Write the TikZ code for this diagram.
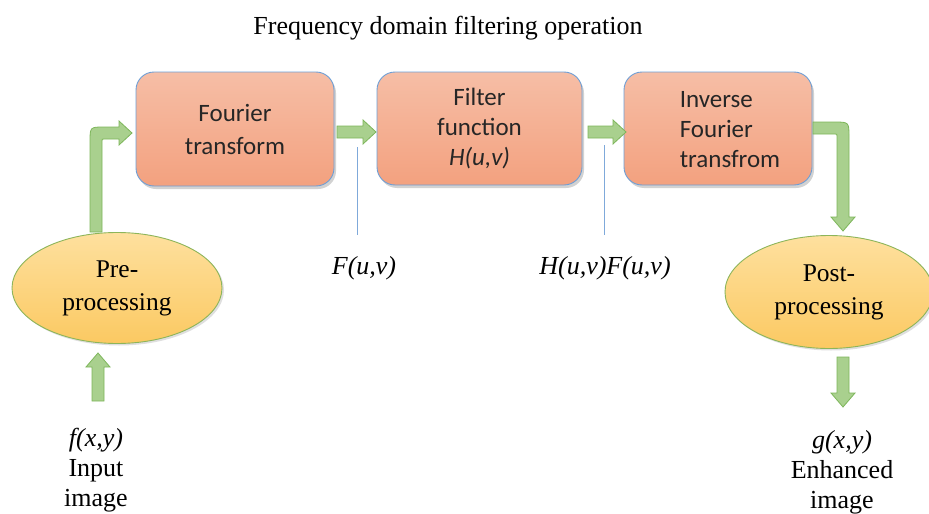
\documentclass[tikz,border=0pt]{standalone}
\usepackage{fontspec}
\setmainfont{Liberation Serif}
\newfontfamily\timesfont{Liberation Serif}
\newfontfamily\carlfont{Carlito}
\usetikzlibrary{shadows,shapes.geometric,calc}
\definecolor{boxtop}{HTML}{F6BEA6}
\definecolor{boxbot}{HTML}{F3A17F}
\definecolor{boxline}{HTML}{6E9FD6}
\definecolor{elltop}{HTML}{FEE09E}
\definecolor{ellbot}{HTML}{FBC962}
\definecolor{ellline}{HTML}{8DB55A}
\definecolor{arrfill}{HTML}{A9D08E}
\definecolor{arrline}{HTML}{7DB65A}
\definecolor{tline}{HTML}{7FA9DA}
\definecolor{txt}{HTML}{262626}
\newcommand\harrow[3]{%
  \path[blockarr] ({#1},{#3-6}) -- ({#2-13},{#3-6}) -- ({#2-13},{#3-12}) -- ({#2},{#3}) -- ({#2-13},{#3+12}) -- ({#2-13},{#3+6}) -- ({#1},{#3+6}) -- cycle;}
\newcommand\varrow[3]{% x center, y start, y tip
  \path[blockarr] ({#1-6},{#2}) -- ({#1-6},{#3-(#3-#2)/abs(#3-#2)*14}) -- ({#1-12},{#3-(#3-#2)/abs(#3-#2)*14}) -- ({#1},{#3}) -- ({#1+12},{#3-(#3-#2)/abs(#3-#2)*14}) -- ({#1+6},{#3-(#3-#2)/abs(#3-#2)*14}) -- ({#1+6},{#2}) -- cycle;}
\newcommand\tl[1]{{\timesfont #1}}
\begin{document}
\begin{tikzpicture}[x=1pt,y=-1pt,
  procbox/.style={rectangle, rounded corners=18pt, draw=boxline, line width=0.9pt,
    top color=boxtop, bottom color=boxbot,
    drop shadow={opacity=0.35,shadow xshift=2pt,shadow yshift=-3pt},
    inner sep=0pt, font=\carlfont\fontsize{25}{30}\selectfont, text=txt, align=center},
  procell/.style={ellipse, draw=ellline, line width=0.9pt,
    top color=elltop, bottom color=ellbot,
    drop shadow={opacity=0.25,shadow xshift=2pt,shadow yshift=-2pt},
    inner sep=0pt, font=\timesfont\fontsize{25.5}{33}\selectfont, align=center},
  blockarr/.style={draw=arrline, line width=0.8pt, fill=arrfill},
  lbl/.style={font=\timesfont\fontsize{26}{30}\selectfont, align=center, inner sep=0pt},
  tick/.style={draw=tline, line width=0.8pt}
]
\useasboundingbox (0,0) rectangle (929,514);
\fill[white] (0,0) rectangle (929,514);

\node[font=\timesfont\fontsize{26}{30}\selectfont] (title) at (448,28) {Frequency domain filtering operation};

% process boxes
\node[procbox, minimum width=198pt, minimum height=114pt, font=\carlfont\fontsize{25}{33}\selectfont] (b1) at (235,129) {Fourier\\transform};
\node[procbox, minimum width=205pt, minimum height=113pt] (b2) at (479.5,128.5) {Filter\\function\\\textit{H(u,v)}};
\node[procbox, minimum width=188pt, minimum height=113pt] (b3) at (718,128.5) {};
\node[font=\carlfont\fontsize{25}{30}\selectfont, text=txt, align=left, inner sep=0pt] (b3t) at (730,130) {Inverse\\Fourier\\transfrom};

% ellipses
\node[procell, minimum width=210pt, minimum height=111pt] (pre) at (117,288) {\tl{Pre-}\\\tl{processing}};
\node[procell, minimum width=208pt, minimum height=113pt] (post) at (829,292) {\tl{Post-}\\\tl{processing}};

% straight block arrows
\harrow{337}{376}{132}
\harrow{588}{626}{132}
\varrow{98}{401}{353}
\varrow{843}{357}{407}

% bent arrow from pre-processing to Fourier transform
\path[blockarr] (90,232) -- (90,142) .. controls (90,127) .. (104,127) -- (119,127) -- (119,121) -- (132,133) -- (119,145) -- (119,139) -- (104,139) .. controls (102,139) .. (102,141) -- (102,232) -- cycle;

% bent arrow from inverse transform to post-processing
\path[blockarr] (813,122) -- (834,122) .. controls (849,122) .. (849,137) -- (849,217) -- (855,217) -- (843,231) -- (831,217) -- (837,217) -- (837,136) .. controls (837,134) .. (835,134) -- (813,134) -- cycle;

% tick lines and labels
\coordinate (t1a) at (357,147);
\coordinate (t1b) at (357,235);
\coordinate (t2a) at (604,145);
\coordinate (t2b) at (604,235);
\draw[tick] (t1a) -- (t1b);
\draw[tick] (t2a) -- (t2b);
\node[lbl] (F) at (364,268) {\textit{F(u,v)}};
\node[lbl] (HF) at (605,268) {\textit{H(u,v)F(u,v)}};

% input / output labels
\node[lbl] (in) at (96,470) {\tl{\textit{f(x,y)}}\\\tl{Input}\\\tl{image}};
\node[lbl] (out) at (842,472) {\tl{\textit{g(x,y)}}\\\tl{Enhanced}\\\tl{image}};
\end{tikzpicture}
\end{document}
